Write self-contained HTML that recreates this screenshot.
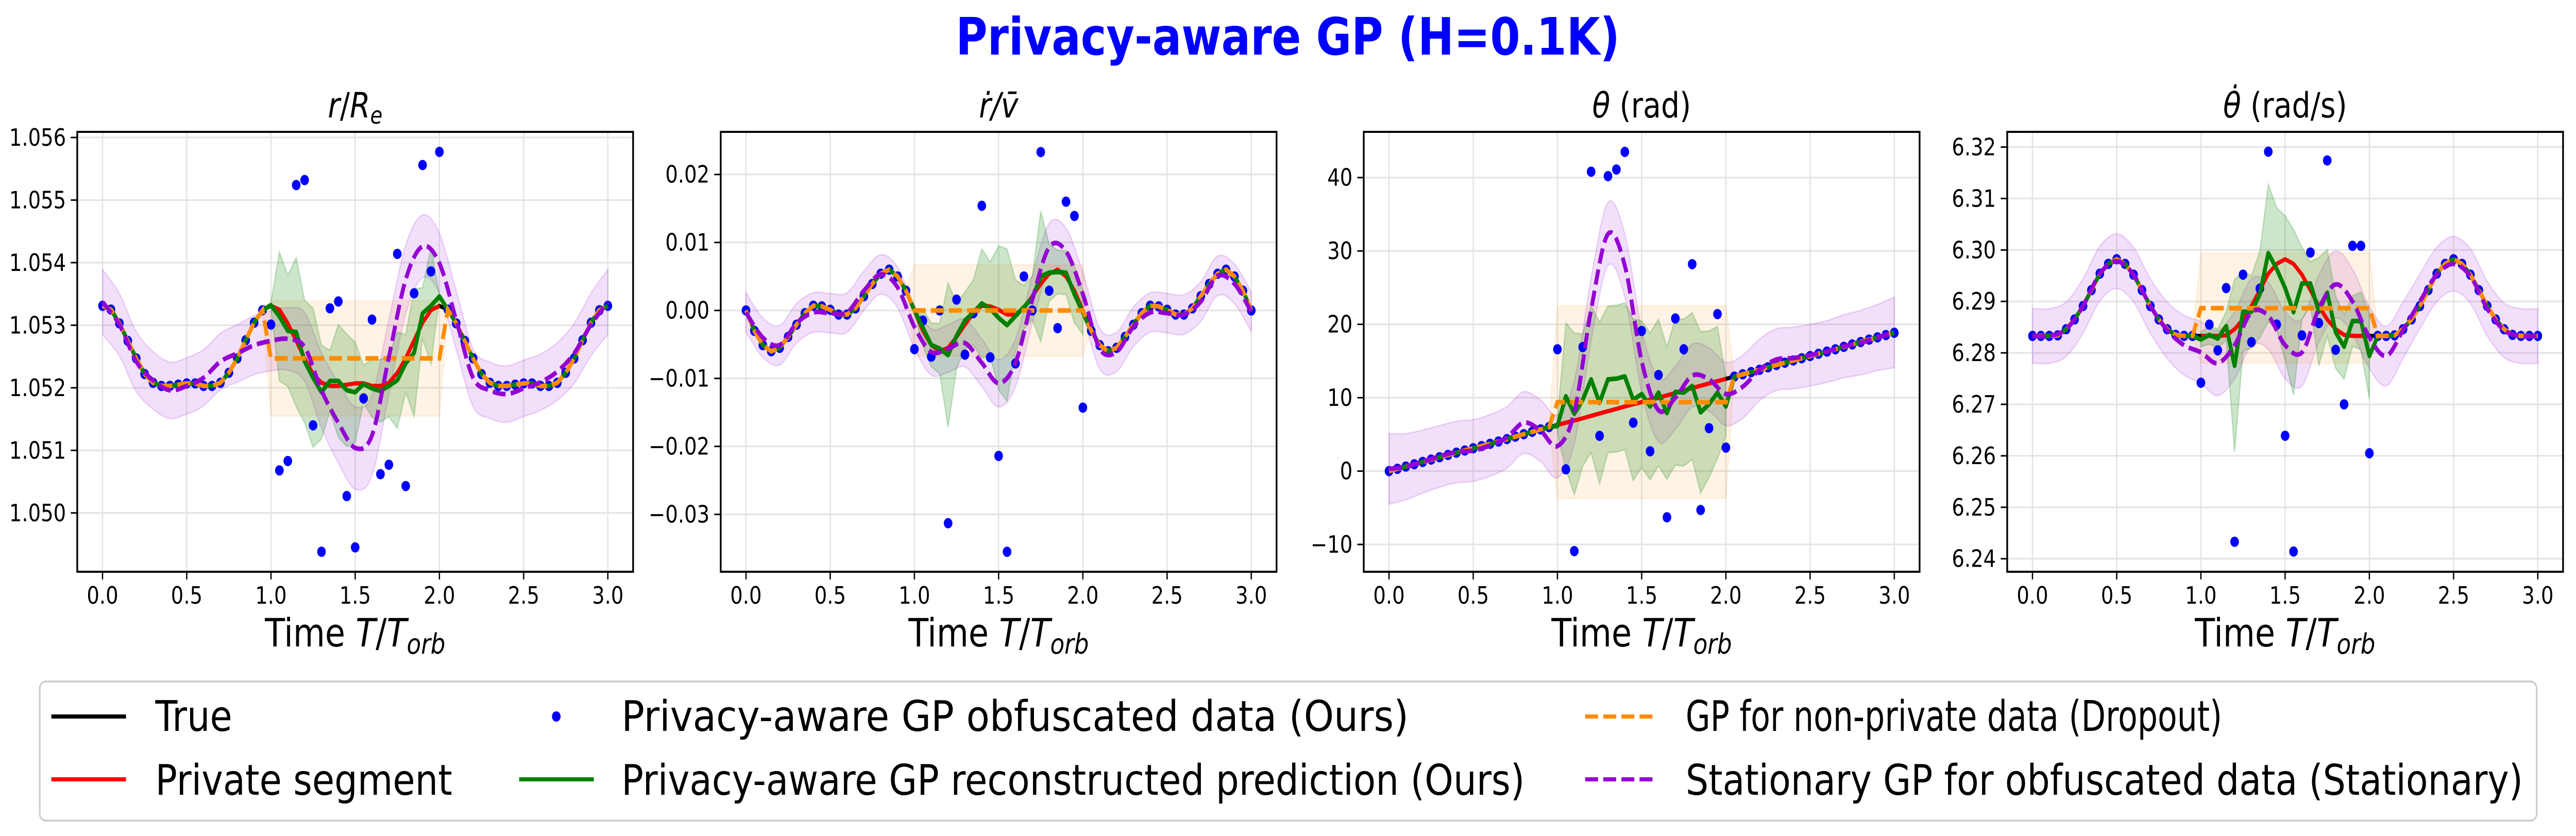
<!DOCTYPE html>
<html><head><meta charset="utf-8"><meta name="viewport" content="width=5969, initial-scale=1"><style>
html,body{margin:0;padding:0;background:#fff;width:100vw;height:100vh;overflow:hidden;}
svg{display:block;width:100vw;height:100vh;font-family:"DejaVu Sans","Liberation Sans",sans-serif;}
</style></head><body>
<svg id="fig" viewBox="0 0 5969 1623" preserveAspectRatio="none" xmlns="http://www.w3.org/2000/svg">
<text x="2984" y="106" text-anchor="middle" font-size="100" font-weight="bold" fill="#0000ff">Privacy-aware GP (H=0.1K)</text>
<g id="legend">
<rect x="92" y="1323" width="5786" height="270" rx="14" fill="#fff" stroke="#d0d0d0" stroke-width="4"/>
<g><line x1="119" y1="1391" x2="292" y2="1391" stroke="#000" stroke-width="8"/><text x="360" y="1419" font-size="82" textLength="178" lengthAdjust="spacingAndGlyphs">True</text></g>
<g><line x1="119" y1="1513" x2="292" y2="1513" stroke="#ff0000" stroke-width="8"/><text x="360" y="1543" font-size="82" textLength="688" lengthAdjust="spacingAndGlyphs">Private segment</text></g>
<g><circle cx="1289" cy="1391" r="10" fill="#0000ff"/><text x="1440" y="1419" font-size="82" textLength="1824" lengthAdjust="spacingAndGlyphs">Privacy-aware GP obfuscated data (Ours)</text></g>
<g><line x1="1203" y1="1513" x2="1376" y2="1513" stroke="#008000" stroke-width="8"/><text x="1440" y="1543" font-size="82" textLength="2093" lengthAdjust="spacingAndGlyphs">Privacy-aware GP reconstructed prediction (Ours)</text></g>
<g><line x1="3673" y1="1391" x2="3839" y2="1391" stroke="#ff8c00" stroke-width="8" stroke-dasharray="30,12"/><text x="3906" y="1419" font-size="82" textLength="1243" lengthAdjust="spacingAndGlyphs">GP for non-private data (Dropout)</text></g>
<g><line x1="3673" y1="1513" x2="3839" y2="1513" stroke="#9400d3" stroke-width="8" stroke-dasharray="30,12"/><text x="3906" y="1543" font-size="82" textLength="1940" lengthAdjust="spacingAndGlyphs">Stationary GP for obfuscated data (Stationary)</text></g>
</g>
</svg>
<script>
// ---- shared categories ----
const T = [0,0.05,0.1,0.15,0.2,0.25,0.3,0.35,0.4,0.45,0.5,0.55,0.6,0.65,0.7,0.75,0.8,0.85,0.9,0.95,1.0,1.05,1.1,1.15,1.2,1.25,1.3,1.35,1.4,1.45,1.5,1.55,1.6,1.65,1.7,1.75,1.8,1.85,1.9,1.95,2.0,2.05,2.1,2.15,2.2,2.25,2.3,2.35,2.4,2.45,2.5,2.55,2.6,2.65,2.7,2.75,2.8,2.85,2.9,2.95,3.0];
const TP = [0,0.1,0.2,0.3,0.4,0.5,0.6,0.7,0.8,0.9,1.0,1.1,1.2,1.3,1.4,1.5,1.6,1.7,1.8,1.9,2.0,2.1,2.2,2.3,2.4,2.5,2.6,2.7,2.8,2.9,3.0];
const TPRIV = [1.0,1.05,1.1,1.15,1.2,1.25,1.3,1.35,1.4,1.45,1.5,1.55,1.6,1.65,1.7,1.75,1.8,1.85,1.9,1.95,2.0];
const xTicks = [0,0.5,1.0,1.5,2.0,2.5,3.0];
const xTickLabels = ["0.0","0.5","1.0","1.5","2.0","2.5","3.0"];

// ---- panel 1: r/Re ----
const p1Truth = [1.05331,1.05325,1.05303,1.05275,1.05247,1.05222,1.05208,1.05203,1.05203,1.05205,1.05207,1.05207,1.05203,1.05203,1.05208,1.05224,1.05247,1.05276,1.05304,1.05324,
1.05331,1.05325,1.05303,1.05275,1.05247,1.05222,1.05208,1.05203,1.05203,1.05205,1.05207,1.05207,1.05203,1.05203,1.05208,1.05224,1.05247,1.05276,1.05304,1.05324,
1.05331,1.05325,1.05303,1.05275,1.05247,1.05222,1.05208,1.05203,1.05203,1.05205,1.05207,1.05207,1.05203,1.05203,1.05208,1.05224,1.05247,1.05276,1.05304,1.05324,1.05331];
const p1Obf = [1.05301,1.05068,1.05083,1.05524,1.05532,1.0514,1.04938,1.05327,1.05338,1.05027,1.04945,1.05183,1.05309,1.05062,1.05077,1.05414,1.05043,1.05351,1.05556,1.05386,1.05577];
const p1Green = [1.05332,1.05314,1.05291,1.05289,1.05242,1.05216,1.05193,1.05211,1.05211,1.05196,1.05193,1.05206,1.05199,1.05195,1.05203,1.05212,1.05239,1.05256,1.05319,1.05331,1.05346];
const p1GreenStd = [0.00005,0.00103,0.00089,0.00119,0.00098,0.00111,0.00075,0.00049,0.0009,0.0009,0.0008,0.0003,0.00046,0.0005,0.00049,0.00077,0.00046,0.00102,0.00041,0.00093,0.00003];
const p1Dropout = [1.05247];
const p1DropoutStd = [0.00092];
const p1Stat = [1.05337,1.05301,1.05242,1.05212,1.05196,1.05203,1.05216,1.05242,1.05255,1.05268,1.05275,1.05278,1.05265,1.05196,1.05144,1.05104,1.05124,1.05249,1.05373,1.05426,1.05399,1.05308,1.05216,1.05196,1.0519,1.05199,1.05209,1.05226,1.05255,1.05301,1.05337];
const p1StatStd = [0.00052,0.0005,0.00048,0.00046,0.00045,0.00045,0.00045,0.00045,0.00046,0.00047,0.00048,0.0005,0.00055,0.0006,0.00064,0.00066,0.00064,0.0006,0.00055,0.0005,0.00048,0.00047,0.00046,0.00045,0.00045,0.00045,0.00045,0.00046,0.00048,0.0005,0.00052];
const p1YTicks = [1.050,1.051,1.052,1.053,1.054,1.055,1.056];
const p1YLabels = ["1.050","1.051","1.052","1.053","1.054","1.055","1.056"];

// ---- panel 2: rdot/vbar ----
const p2Truth = [0,-0.003,-0.0051,-0.006,-0.0055,-0.0039,-0.0021,-0.0004,0.0007,0.0006,0.0001,-0.0006,-0.0006,0.0003,0.0021,0.0039,0.0054,0.006,0.005,0.0029,
0,-0.003,-0.0051,-0.006,-0.0055,-0.0039,-0.0021,-0.0004,0.0007,0.0006,0.0001,-0.0006,-0.0006,0.0003,0.0021,0.0039,0.0054,0.006,0.005,0.0029,
0,-0.003,-0.0051,-0.006,-0.0055,-0.0039,-0.0021,-0.0004,0.0007,0.0006,0.0001,-0.0006,-0.0006,0.0003,0.0021,0.0039,0.0054,0.006,0.005,0.0029,0];
const p2Obf = [-0.0057,-0.0015,-0.0068,0,-0.0313,0.0016,-0.0065,-0.0004,0.0154,-0.0069,-0.0214,-0.0355,-0.0078,0.005,0,0.0233,0.0029,-0.0026,0.016,0.0139,-0.0143];
const p2Green = [0,-0.00253,-0.00508,-0.00561,-0.00657,-0.00375,-0.00147,-0.0003,0.00103,0.00024,-0.00109,-0.00216,-0.00083,0.0005,0.00183,0.00502,0.00555,0.00565,0.00555,0.00236,-0.0003];
const p2GreenStd = [0.0003,0.0027,0.0032,0.0037,0.0106,0.0048,0.0042,0.0048,0.008,0.0069,0.0106,0.0112,0.0053,0.0032,0.0032,0.0096,0.0042,0.0032,0.0032,0.0042,0.0032];
const p2Dropout = [0];
const p2DropoutStd = [0.0067];
const p2Stat = [-0.0003,-0.004,-0.0051,-0.0019,-0.0003,-0.0004,-0.0003,0.0029,0.0053,0.0034,-0.0024,-0.0061,-0.0056,-0.0048,-0.0077,-0.0107,-0.0077,0.0016,0.0093,0.0087,0.0024,-0.0056,-0.0061,-0.0024,-0.0003,-0.0004,-0.0006,0.0013,0.0051,0.0039,-0.0002];
const p2StatStd = [0.0029,0.0029,0.0029,0.0029,0.0029,0.0029,0.0029,0.0029,0.0029,0.003,0.0032,0.0034,0.0035,0.0035,0.0035,0.0035,0.0035,0.0035,0.0035,0.0034,0.0032,0.003,0.0029,0.0029,0.0029,0.0029,0.0029,0.0029,0.0029,0.0029,0.0029];
const p2YTicks = [-0.03,-0.02,-0.01,0,0.01,0.02];
const p2YLabels = ["\u22120.03","\u22120.02","\u22120.01","0.00","0.01","0.02"];

// ---- panel 3: theta ----
const p3Truth = [0,0.31,0.62,0.93,1.25,1.57,1.89,2.2,2.51,2.81,3.11,3.41,3.72,4.03,4.36,4.7,5.03,5.36,5.68,5.99,6.28,6.59,6.9,7.2,7.53,7.85,8.17,8.48,8.8,9.1,9.4,9.7,10.0,10.32,10.65,10.98,11.31,11.63,11.95,12.26,12.57,12.88,13.19,13.49,13.81,14.14,14.46,14.77,15.08,15.38,15.68,15.99,16.29,16.6,16.93,17.26,17.59,17.92,18.23,18.54,18.85];
const p3Obf = [16.6,0.24,-10.9,16.9,40.8,4.8,40.2,41.1,43.5,6.6,19.1,2.7,13.1,-6.3,20.8,16.6,28.2,-5.3,5.85,21.4,3.2];
const p3Green = [6.14,10.2,7.8,9.7,12.5,9.3,12.5,12.6,12.9,9.7,10.5,8.8,10.7,7.9,10.8,10.7,11.6,8.0,9.1,10.7,8.8];
const p3GreenStd = [1,10,11,9,10,11,10,10,10,11,10,10,10,9,10,10,10,11,10,9,4];
const p3Dropout = [9.4];
const p3DropoutStd = [13.1];
const p3Stat = [0.3,0.6,1.3,2.0,2.6,2.8,3.5,4.6,6.6,5.5,3.4,8.0,22,32.3,28,15,8.3,10,13,12.5,10.5,11.5,13.8,15.2,15.4,15.8,16.3,17,17.5,18.2,18.9];
const p3StatStd = [4.8,4.5,4.3,4.2,4.2,4.2,4.2,4.2,4.2,4.2,4.3,4.3,4.3,4.3,4.3,4.3,4.3,4.3,4.3,4.3,4.3,4.3,4.2,4.2,4.2,4.2,4.2,4.3,4.4,4.5,4.8];
const p3YTicks = [-10,0,10,20,30,40];
const p3YLabels = ["\u221210","0","10","20","30","40"];

// ---- panel 4: thetadot ----
const p4Truth = [6.2833,6.2833,6.2833,6.2834,6.2846,6.2865,6.2891,6.2922,6.2954,6.2973,6.2982,6.2973,6.2952,6.2922,6.2891,6.2865,6.2846,6.2835,6.2833,6.2833,
6.2833,6.2833,6.2833,6.2834,6.2846,6.2865,6.2891,6.2922,6.2954,6.2973,6.2982,6.2973,6.2952,6.2922,6.2891,6.2865,6.2846,6.2835,6.2833,6.2833,
6.2833,6.2833,6.2833,6.2834,6.2846,6.2865,6.2891,6.2922,6.2954,6.2973,6.2982,6.2973,6.2952,6.2922,6.2891,6.2865,6.2846,6.2835,6.2833,6.2833,6.2833];
const p4Obf = [6.2742,6.2855,6.2805,6.2926,6.2433,6.2952,6.2821,6.2925,6.3191,6.2855,6.2639,6.2414,6.2834,6.2995,6.2858,6.3174,6.2806,6.27,6.3008,6.3008,6.2605];
const p4Green = [6.2826,6.2835,6.2828,6.2852,6.2775,6.288,6.288,6.2914,6.2994,6.2963,6.2926,6.2879,6.2935,6.2935,6.288,6.2917,6.284,6.2812,6.2862,6.2862,6.2794];
const p4GreenStd = [0.0014,0.0018,0.0018,0.0028,0.0168,0.0077,0.007,0.0084,0.0133,0.0119,0.014,0.0161,0.007,0.0042,0.0105,0.0084,0.007,0.0063,0.0049,0.0056,0.0084];
const p4Dropout = [6.2887];
const p4DropoutStd = [0.0107];
const p4Stat = [6.2833,6.2833,6.2846,6.2891,6.2954,6.2978,6.2952,6.2891,6.2844,6.2815,6.2801,6.278,6.2815,6.2879,6.2872,6.2815,6.2801,6.2886,6.2933,6.29,6.283,6.2794,6.2844,6.29,6.2952,6.2973,6.2949,6.2886,6.2844,6.2833,6.2833];
const p4StatStd = [0.0053,0.0053,0.0053,0.0053,0.0053,0.0053,0.0053,0.0053,0.0055,0.0058,0.006,0.0063,0.0065,0.0065,0.0065,0.0065,0.0065,0.0065,0.0065,0.0063,0.006,0.0058,0.0055,0.0053,0.0053,0.0053,0.0053,0.0053,0.0053,0.0053,0.0053];
const p4YTicks = [6.24,6.25,6.26,6.27,6.28,6.29,6.30,6.31,6.32];
const p4YLabels = ["6.24","6.25","6.26","6.27","6.28","6.29","6.30","6.31","6.32"];

const NS = "http://www.w3.org/2000/svg";
const svg = document.getElementById('fig');
function mk(tag, attrs, parent){const e=document.createElementNS(NS,tag);for(const k in attrs)e.setAttribute(k,attrs[k]);(parent||svg).appendChild(e);return e;}
function smooth(pts){
  let d="M"+pts[0][0].toFixed(1)+","+pts[0][1].toFixed(1);
  for(let i=0;i<pts.length-1;i++){
    const p0=pts[Math.max(0,i-1)],p1=pts[i],p2=pts[i+1],p3=pts[Math.min(pts.length-1,i+2)];
    const c1x=p1[0]+(p2[0]-p0[0])/6,c1y=p1[1]+(p2[1]-p0[1])/6;
    const c2x=p2[0]-(p3[0]-p1[0])/6,c2y=p2[1]-(p3[1]-p1[1])/6;
    d+=" C"+c1x.toFixed(1)+","+c1y.toFixed(1)+" "+c2x.toFixed(1)+","+c2y.toFixed(1)+" "+p2[0].toFixed(1)+","+p2[1].toFixed(1);
  }
  return d;
}
function poly(pts){return "M"+pts.map(p=>p[0].toFixed(1)+","+p[1].toFixed(1)).join(" L");}

const TOP=256,BOT=1110,W=1288;
const panels=[
 {left:179,y0:1.04906,y1:1.05609,truth:p1Truth,obf:p1Obf,green:p1Green,gstd:p1GreenStd,drop:p1Dropout,dstd:p1DropoutStd,stat:p1Stat,sstd:p1StatStd,yt:p1YTicks,yl:p1YLabels,title:'<tspan font-style="italic">r</tspan>/<tspan font-style="italic">R</tspan><tspan font-style="italic" font-size="46" dy="12">e</tspan>',name:'r-over-re'},
 {left:1670,y0:-0.03844,y1:0.02627,truth:p2Truth,obf:p2Obf,green:p2Green,gstd:p2GreenStd,drop:p2Dropout,dstd:p2DropoutStd,stat:p2Stat,sstd:p2StatStd,yt:p2YTicks,yl:p2YLabels,title:'<tspan font-style="italic">\u1E59/v\u0304</tspan>',name:'rdot-over-vbar'},
 {left:3160,y0:-13.72,y1:46.23,truth:p3Truth,obf:p3Obf,green:p3Green,gstd:p3GreenStd,drop:p3Dropout,dstd:p3DropoutStd,stat:p3Stat,sstd:p3StatStd,yt:p3YTicks,yl:p3YLabels,title:'<tspan font-style="italic">\u03B8</tspan> (rad)',name:'theta'},
 {left:4651,y0:6.23747,y1:6.32295,truth:p4Truth,obf:p4Obf,green:p4Green,gstd:p4GreenStd,drop:p4Dropout,dstd:p4DropoutStd,stat:p4Stat,sstd:p4StatStd,yt:p4YTicks,yl:p4YLabels,title:'<tspan font-style="italic">\u03B8\u0307</tspan> (rad/s)',name:'thetadot'}
];

panels.forEach((P,pi)=>{
  const g=mk('g',{});
  
  
  const xs=t=>P.left+(t+0.15)/3.3*W;
  const ys=v=>BOT-(v-P.y0)/(P.y1-P.y0)*(BOT-TOP);
  const cid='clip'+pi;
  const cp=mk('clipPath',{id:cid},g);mk('rect',{x:P.left,y:TOP,width:W,height:BOT-TOP},cp);
  xTicks.forEach(t=>{const l=mk('line',{x1:xs(t),x2:xs(t),y1:TOP,y2:BOT,stroke:'#e3e3e3','stroke-width':3},g);});
  P.yt.forEach(v=>{const l=mk('line',{x1:P.left,x2:P.left+W,y1:ys(v),y2:ys(v),stroke:'#e3e3e3','stroke-width':3},g);});
  const plot=mk('g',{'clip-path':'url(#'+cid+')'},g);
  const su=TP.map((t,i)=>[xs(t),ys(P.stat[i]+P.sstd[i])]);
  const sl=TP.map((t,i)=>[xs(t),ys(P.stat[i]-P.sstd[i])]).reverse();
  const sb=mk('path',{d:smooth(su)+" L"+smooth(sl).slice(1)+" Z",fill:'#9400d3','fill-opacity':0.12,stroke:'#9400d3','stroke-opacity':0.15,'stroke-width':3},plot);
  
  
  const i0=T.indexOf(0.95),i1=T.indexOf(2.05);
  const du=[[xs(T[i0]),ys(P.truth[i0])]],dl=[[xs(T[i0]),ys(P.truth[i0])]];
  TPRIV.forEach(t=>{du.push([xs(t),ys(P.drop[0]+P.dstd[0])]);dl.push([xs(t),ys(P.drop[0]-P.dstd[0])]);});
  du.push([xs(T[i1]),ys(P.truth[i1])]);dl.push([xs(T[i1]),ys(P.truth[i1])]);
  const db=mk('path',{d:poly(du)+" L"+poly(dl.reverse()).slice(1)+" Z",fill:'#ff8c00','fill-opacity':0.1,stroke:'#ff8c00','stroke-opacity':0.1,'stroke-width':3},plot);
  
  
  const gu=TPRIV.map((t,i)=>[xs(t),ys(P.green[i]+P.gstd[i])]);
  const gl=TPRIV.map((t,i)=>[xs(t),ys(P.green[i]-P.gstd[i])]).reverse();
  const gb=mk('path',{d:poly(gu)+" L"+poly(gl).slice(1)+" Z",fill:'#008000','fill-opacity':0.2,stroke:'#008000','stroke-opacity':0.2,'stroke-width':3},plot);
  
  
  const tl=mk('path',{d:poly(T.map((t,i)=>[xs(t),ys(P.truth[i])])),fill:'none',stroke:'#000','stroke-width':8,'stroke-linejoin':'round'},plot);
  
  
  const ia=T.indexOf(1.0),ib=T.indexOf(2.0);
  const rl=mk('path',{d:poly(T.slice(ia,ib+1).map((t,k)=>[xs(t),ys(P.truth[ia+k])])),fill:'none',stroke:'#ff0000','stroke-width':8,'stroke-linejoin':'round'},plot);
  
  
  T.forEach((t,i)=>{
    const v=(i>=ia&&i<=ib)?P.obf[i-ia]:P.truth[i];
    const c=mk('circle',{cx:xs(t),cy:ys(v),r:10,fill:'#0000ff'},plot);
    
    
  });
  const gpts=T.map((t,i)=>[xs(t),ys((i>=ia&&i<=ib)?P.green[i-ia]:P.truth[i])]);
  const gline=mk('path',{d:poly(gpts),fill:'none',stroke:'#008000','stroke-width':9,'stroke-linejoin':'round'},plot);
  
  
  const dpts=T.map((t,i)=>[xs(t),ys((i>=ia&&i<=ib)?P.drop[0]:P.truth[i])]);
  const dline=mk('path',{d:poly(dpts),fill:'none',stroke:'#ff8c00','stroke-width':9,'stroke-dasharray':'30,12'},plot);
  
  
  const sline=mk('path',{d:smooth(TP.map((t,i)=>[xs(t),ys(P.stat[i])])),fill:'none',stroke:'#9400d3','stroke-width':9,'stroke-dasharray':'30,12'},plot);
  
  
  const fr=mk('rect',{x:P.left,y:TOP,width:W,height:BOT-TOP,fill:'none',stroke:'#000','stroke-width':4},g);
  
  
  xTicks.forEach((t,k)=>{
    mk('line',{x1:xs(t),x2:xs(t),y1:BOT,y2:BOT+15,stroke:'#000','stroke-width':3},g);
    const tx=mk('text',{x:xs(t),y:BOT+62,'text-anchor':'middle','font-size':46},g);
    tx.textContent=xTickLabels[k];
    
    
  });
  P.yt.forEach((v,k)=>{
    mk('line',{x1:P.left-15,x2:P.left,y1:ys(v),y2:ys(v),stroke:'#000','stroke-width':3},g);
    const tx=mk('text',{x:P.left-26,y:ys(v)+16,'text-anchor':'end','font-size':46},g);
    tx.textContent=P.yl[k];
    
    
  });
  const xl=mk('text',{x:P.left+W/2,y:1255,'text-anchor':'middle','font-size':76},g);
  xl.innerHTML='Time <tspan font-style="italic">T</tspan>/<tspan font-style="italic">T</tspan><tspan font-style="italic" font-size="54" dy="14">orb</tspan>';
  
  
  const tt=mk('text',{x:P.left+W/2,y:228,'text-anchor':'middle','font-size':68},g);
  tt.innerHTML=P.title;
  
  
});
svg.appendChild(document.getElementById('legend'));
</script>
</body></html>
